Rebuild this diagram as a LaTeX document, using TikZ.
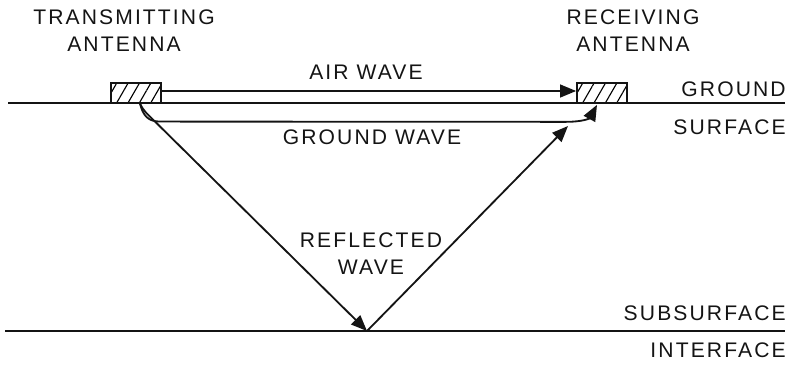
\documentclass[tikz,border=0pt]{standalone}
\usepackage{fontspec}
\usepackage{tikz}
\usetikzlibrary{arrows.meta,positioning,calc,patterns.meta}
\newfontfamily\lblfont[LetterSpace=10]{Liberation Sans}
\definecolor{inkblk}{RGB}{20,20,20}
\tikzset{
  wavearr/.style={-{Triangle[length=4mm,width=3.2mm]}, inkblk, line width=1.3pt},
  antbox/.style={draw=inkblk, line width=1.2pt, minimum width=1.25cm, minimum height=0.5cm,
                 inner sep=0pt, pattern={Lines[angle=60,distance=7pt,line width=0.8pt]}},
  layer/.style={inkblk, line width=1.7pt},
  lbl/.style={font=\lblfont\fontsize{15pt}{19.2pt}\selectfont, text=inkblk, align=center, inner sep=0pt},
}

\begin{document}
\begin{tikzpicture}[x=0.025cm, y=-0.025cm]
    \useasboundingbox (0,0) rectangle (803,364);
    % ground surface and subsurface interface
    \draw[layer] (8,103) -- (785,103);
    \draw[layer] (5,331) -- (785,331);
    % antennas
    \node[antbox] (tx) at (136,93) {};
    \node[antbox] (rx) at (602,93) {};
    \coordinate (refl) at (367,331);
    \coordinate (rtip) at (568,126);
    % waves
    \draw[wavearr] ($(tx.east)+(0,-2)$) -- ($(rx.west)+(0,-2)$);
    \draw[wavearr] ($(tx.south)+(4,0)$) .. controls ($(tx.south)+(7,12)$) and ($(tx.south)+(12,18)$) .. ($(tx.south)+(24,18)$)
      -- ($(rx.south)+(-37,18)$) .. controls ($(rx.south)+(-17,18)$) and ($(rx.south)+(-12,14)$) .. ($(rx.south)+(-5,1)$);
    \draw[wavearr] ($(tx.south)+(4,0)$) to[out=-65,in=135] ($(tx.south)+(18,17)$) -- (refl);
    \draw[wavearr] (refl) -- (rtip);
    % labels
    \node[lbl] (txlbl) at (124,31) {TRANSMITTING\\ANTENNA};
    \node[lbl] (rxlbl) at (633,31) {RECEIVING\\ANTENNA};
    \node[lbl] (airlbl) at (366,72) {AIR WAVE};
    \node[lbl] (gndlbl) at (372,137) {GROUND WAVE};
    \node[lbl] (reflbl) at (371,254) {REFLECTED\\WAVE};
    \node[lbl, anchor=east] (surf1) at (786,89) {GROUND};
    \node[lbl, anchor=east] (surf2) at (786,127) {SURFACE};
    \node[lbl, anchor=east] (int1) at (786,313) {SUBSURFACE};
    \node[lbl, anchor=east] (int2) at (786,350) {INTERFACE};
  \end{tikzpicture}
\end{document}
